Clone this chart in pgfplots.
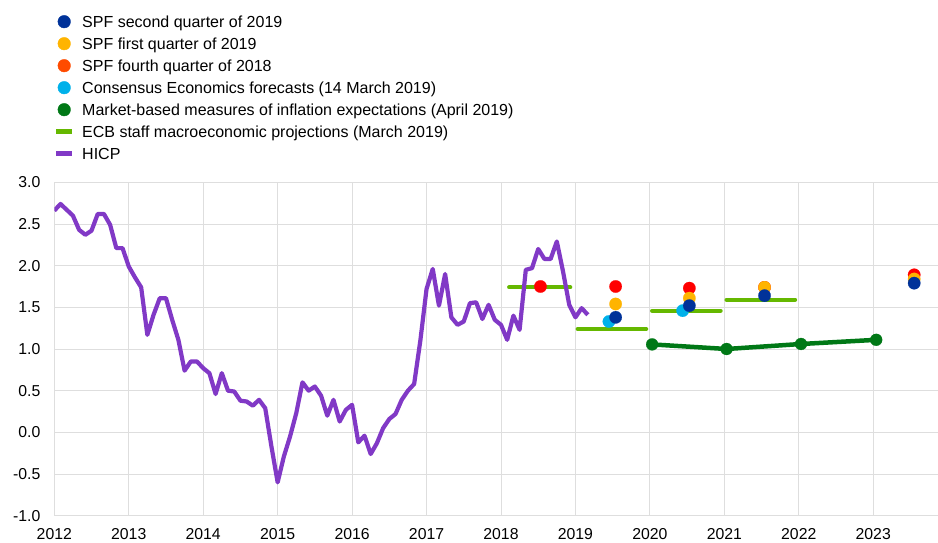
\documentclass[border=0pt]{standalone}
\usepackage{pgfplots}
\pgfplotsset{compat=1.18}
\usepackage{fontspec}
\setmainfont{Liberation Sans}
\definecolor{spfnavy}{HTML}{003299}
\definecolor{spfyellow}{HTML}{FFB400}
\definecolor{spfred}{HTML}{FF0000}
\definecolor{spfredleg}{HTML}{FF4B00}
\definecolor{cecyan}{HTML}{00B1EA}
\definecolor{mktgreen}{HTML}{007816}
\definecolor{ecbgreen}{HTML}{65B800}
\definecolor{hicppurple}{HTML}{8139C6}
\definecolor{gridgray}{HTML}{DEDEDE}
\begin{document}
\begin{tikzpicture}
\begin{axis}[
  at={(0,0)}, anchor=south west,
  scale only axis, width=883.7pt, height=333.4pt,
  xmin=2012, xmax=2023.87, ymin=-1, ymax=3,
  xtick={2012,2013,2014,2015,2016,2017,2018,2019,2020,2021,2022,2023},
  xticklabels={2012,2013,2014,2015,2016,2017,2018,2019,2020,2021,2022,2023},
  ytick={-1,-0.5,0,0.5,1,1.5,2,2.5,3},
  yticklabels={-1.0,-0.5,0.0,0.5,1.0,1.5,2.0,2.5,3.0},
  grid=major, major grid style={draw=gridgray, line width=0.9pt},
  axis line style={draw=none}, major tick length=0pt, tick style={draw=none},
  tick label style={font=\fontsize{15.8}{18}\selectfont},
  yticklabel style={inner sep=0pt, anchor=east, xshift=-13.8pt},
  xticklabel style={inner sep=0pt, anchor=north, yshift=-12.2pt},
  unbounded coords=jump,
  legend cell align=left,
  legend style={at={(0,1)}, anchor=north west, xshift=-0.6pt, yshift=171.6pt,
    draw=none, fill=none, inner sep=0pt, outer sep=0pt,
    row sep=0pt, column sep=7.5pt,
    font=\fontsize{16}{18}\selectfont,
    nodes={inner sep=0pt, text height=16.4pt, text depth=5.6pt}},
]
% legend entries
\addlegendimage{legend image code/.code={\fill[spfnavy] (0pt,0pt) circle (6.3pt);}}
\addlegendentry{SPF second quarter of 2019}
\addlegendimage{legend image code/.code={\fill[spfyellow] (0pt,0pt) circle (6.3pt);}}
\addlegendentry{SPF first quarter of 2019}
\addlegendimage{legend image code/.code={\fill[spfredleg] (0pt,0pt) circle (6.3pt);}}
\addlegendentry{SPF fourth quarter of 2018}
\addlegendimage{legend image code/.code={\fill[cecyan] (0pt,0pt) circle (6.3pt);}}
\addlegendentry{Consensus Economics forecasts (14 March 2019)}
\addlegendimage{legend image code/.code={\fill[mktgreen] (0pt,0pt) circle (6.3pt);}}
\addlegendentry{Market-based measures of inflation expectations (April 2019)}
\addlegendimage{legend image code/.code={\draw[ecbgreen, line width=5pt] (-8pt,0pt) -- (8pt,0pt);}}
\addlegendentry{ECB staff macroeconomic projections (March 2019)}
\addlegendimage{legend image code/.code={\draw[hicppurple, line width=5pt] (-8pt,0pt) -- (8pt,0pt);}}
\addlegendentry{HICP}

% Consensus Economics
\addplot[forget plot, only marks, color=cecyan, mark=*, mark size=6.2pt, mark options={line width=0.2pt}]
  coordinates {(2019.45,1.33) (2020.44,1.46)};
% SPF Q4 2018
\addplot[forget plot, only marks, color=spfred, mark=*, mark size=6.2pt, mark options={line width=0.2pt}]
  coordinates {(2018.53,1.75) (2019.54,1.75) (2020.53,1.73) (2021.54,1.74) (2023.55,1.89)};
% SPF Q1 2019
\addplot[forget plot, only marks, color=spfyellow, mark=*, mark size=6.2pt, mark options={line width=0.2pt}]
  coordinates {(2019.54,1.54) (2020.53,1.61) (2021.54,1.74) (2023.55,1.84)};
% SPF Q2 2019
\addplot[forget plot, only marks, color=spfnavy, mark=*, mark size=6.2pt, mark options={line width=0.2pt}]
  coordinates {(2019.54,1.38) (2020.53,1.52) (2021.54,1.64) (2023.55,1.79)};
% Market-based
\addplot[forget plot, color=mktgreen, line width=4.5pt, mark=*, mark size=6pt, mark options={line width=0.2pt}]
  coordinates {(2020.03,1.055) (2021.03,1.00) (2022.03,1.06) (2023.04,1.11)};
% ECB staff projections
\addplot[forget plot, color=ecbgreen, line width=4.2pt, line cap=round]
  coordinates {(2018.11,1.74) (2018.93,1.74) (2018.98,nan)
               (2019.03,1.24) (2019.95,1.24) (2019.98,nan)
               (2020.03,1.46) (2020.95,1.46) (2020.98,nan)
               (2021.03,1.59) (2021.95,1.59)};
% HICP
\addplot[forget plot, color=hicppurple, line width=4.2pt, line join=round] coordinates {
(2012.0000,2.66) (2012.0833,2.74) (2012.1667,2.67) (2012.2500,2.60) (2012.3333,2.43) (2012.4167,2.37)
(2012.5000,2.42) (2012.5833,2.62) (2012.6667,2.62) (2012.7500,2.49) (2012.8333,2.21) (2012.9167,2.21)
(2013.0000,1.99) (2013.0833,1.86) (2013.1667,1.74) (2013.2500,1.17) (2013.3333,1.41) (2013.4167,1.61)
(2013.5000,1.61) (2013.5833,1.35) (2013.6667,1.11) (2013.7500,0.74) (2013.8333,0.85) (2013.9167,0.85)
(2014.0000,0.77) (2014.0833,0.71) (2014.1667,0.46) (2014.2500,0.71) (2014.3333,0.50) (2014.4167,0.49)
(2014.5000,0.38) (2014.5833,0.37) (2014.6667,0.32) (2014.7500,0.39) (2014.8333,0.29) (2014.9167,-0.17)
(2015.0000,-0.60) (2015.0833,-0.29) (2015.1667,-0.05) (2015.2500,0.23) (2015.3333,0.60) (2015.4167,0.50)
(2015.5000,0.55) (2015.5833,0.44) (2015.6667,0.20) (2015.7500,0.39) (2015.8333,0.13) (2015.9167,0.27)
(2016.0000,0.33) (2016.0833,-0.12) (2016.1667,-0.04) (2016.2500,-0.26) (2016.3333,-0.13) (2016.4167,0.05)
(2016.5000,0.16) (2016.5833,0.22) (2016.6667,0.39) (2016.7500,0.50) (2016.8333,0.58) (2016.9167,1.10)
(2017.0000,1.72) (2017.0833,1.96) (2017.1667,1.52) (2017.2500,1.90) (2017.3333,1.38) (2017.4167,1.29)
(2017.5000,1.33) (2017.5833,1.55) (2017.6667,1.56) (2017.7500,1.36) (2017.8333,1.53) (2017.9167,1.35)
(2018.0000,1.29) (2018.0833,1.11) (2018.1667,1.40) (2018.2500,1.23) (2018.3333,1.95) (2018.4167,1.97)
(2018.5000,2.20) (2018.5833,2.08) (2018.6667,2.08) (2018.7500,2.29) (2018.8333,1.93) (2018.9167,1.53)
(2019.0000,1.38) (2019.0833,1.49) (2019.1667,1.41)
};
\end{axis}
\pgfresetboundingbox
\path[use as bounding box] (-54.3pt,-27.3pt) rectangle (883.7pt,515.7pt);
\end{tikzpicture}
\end{document}
